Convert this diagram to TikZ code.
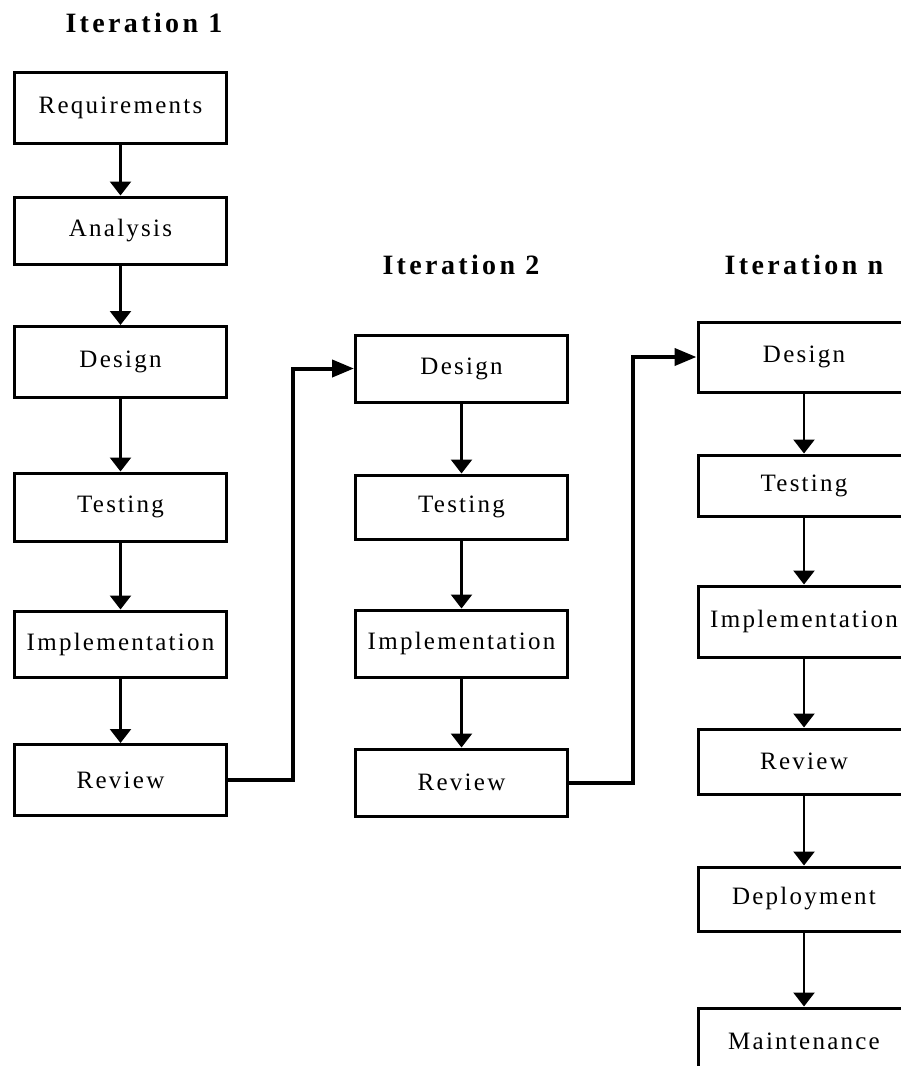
\documentclass[tikz,border=0pt]{standalone}
\usepackage{fontspec}
\setmainfont{Liberation Serif}
\newfontfamily\boxfont[LetterSpace=9]{Liberation Serif}
\newfontfamily\titlefont[LetterSpace=12]{Liberation Serif Bold}
\usetikzlibrary{arrows.meta}
\begin{document}
\begin{tikzpicture}[x=1pt,y=-1pt,
  box/.style={draw=black, line width=3pt, inner sep=0pt, minimum width=212pt,
    font=\boxfont\fontsize{25}{29}\selectfont},
  ttl/.style={inner sep=0pt, font=\titlefont\fontsize{28}{32}\selectfont},
  flow/.style={line width=2.5pt, -{Triangle[width=21pt,length=14pt]}},
  conn/.style={line width=4pt, -{Triangle[width=17pt,length=22pt]}}]
\clip (0,0) rectangle (901,1066);
\fill[white] (0,0) rectangle (901,1066);
% titles
\node[ttl] (t1) at (144,23) {Iteration 1};
\node[ttl] (t2) at (461,265) {Iteration 2};
\node[ttl] (tn) at (804,265) {Iteration n};
% column 1
\node[box, minimum height=71pt] (req1) at (120.5,107.5) {Requirements};
\node[box, minimum height=67pt] (ana1) at (120.5,230.5) {Analysis};
\node[box, minimum height=71pt] (des1) at (120.5,362) {Design};
\node[box, minimum height=68pt] (tes1) at (120.5,507) {Testing};
\node[box, minimum height=66pt] (imp1) at (120.5,644) {Implementation};
\node[box, minimum height=71pt] (rev1) at (120.5,780) {Review};
% column 2
\node[box, minimum height=67pt] (des2) at (461.5,368.5) {Design};
\node[box, minimum height=64pt] (tes2) at (461.5,507) {Testing};
\node[box, minimum height=67pt] (imp2) at (461.5,643.5) {Implementation};
\node[box, minimum height=67pt] (rev2) at (461.5,782.5) {Review};
% column 3
\node[box, minimum height=70pt] (des3) at (804,357) {Design};
\node[box, minimum height=61pt] (tes3) at (804,485.5) {Testing};
\node[box, minimum height=71pt] (imp3) at (804,621.5) {Implementation};
\node[box, minimum height=65pt] (rev3) at (804,761.5) {Review};
\node[box, minimum height=64pt] (dep3) at (804,899) {Deployment};
\node[box, minimum height=66pt] (mai3) at (804,1041) {Maintenance};
% arrows
\draw[flow] (req1) -- (ana1);
\draw[flow] (ana1) -- (des1);
\draw[flow] (des1) -- (tes1);
\draw[flow] (tes1) -- (imp1);
\draw[flow] (imp1) -- (rev1);
\draw[flow] (des2) -- (tes2);
\draw[flow] (tes2) -- (imp2);
\draw[flow] (imp2) -- (rev2);
\draw[flow] (des3) -- (tes3);
\draw[flow] (tes3) -- (imp3);
\draw[flow] (imp3) -- (rev3);
\draw[flow] (rev3) -- (dep3);
\draw[flow] (dep3) -- (mai3);
% connectors between iterations
\draw[conn] (rev1.east) -- ++(65,0) |- (des2.west);
\draw[conn] (rev2.east) -- ++(64,0) |- (des3.west);
\end{tikzpicture}
\end{document}
